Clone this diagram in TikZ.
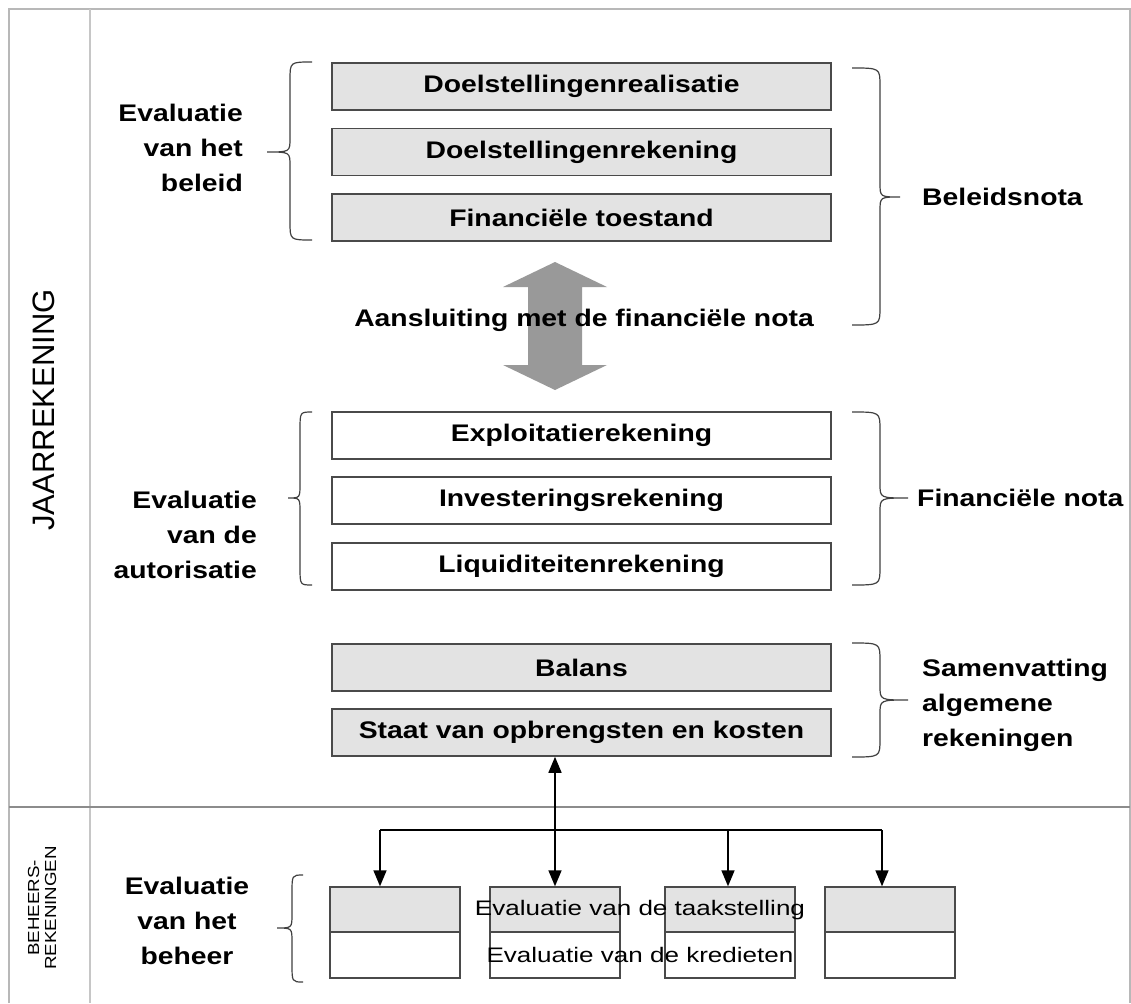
\documentclass[tikz,border=0pt]{standalone}
\usepackage{fontspec}
\setmainfont{Liberation Sans}
\usetikzlibrary{arrows.meta,calc}
\definecolor{boxgray}{HTML}{E3E3E3}
\definecolor{edge}{HTML}{4A4A4A}
\definecolor{framegray}{HTML}{B8B8B8}
\definecolor{sepgray}{HTML}{8C8C8C}
\definecolor{bigarrow}{HTML}{999999}
% horizontally widened text
\newcommand{\wide}[1]{\scalebox{1.18}[1]{#1}}
\newcommand{\widesmall}[1]{\scalebox{1.24}[1]{#1}}
% curly brace: ends x, spine x, tip x, top y, tip y, bottom y
\newcommand{\curly}[6]{%
  \draw[brace] (#1,#4) .. controls (#2,#4) .. (#2,#4+18) -- (#2,#5-14)
    .. controls (#2,#5) .. (#3,#5) .. controls (#2,#5) .. (#2,#5+14)
    -- (#2,#6-18) .. controls (#2,#6) .. (#1,#6);}
\begin{document}
\begin{tikzpicture}[x=1pt,y=-1pt,
  bigbox/.style={draw=edge, line width=1.6pt, fill=boxgray, minimum width=499pt,
    minimum height=47pt, inner sep=0pt, font=\fontsize{24}{28}\selectfont\bfseries},
  whitebox/.style={bigbox, fill=white},
  smallgray/.style={draw=edge, line width=1.4pt, fill=boxgray, minimum width=130pt,
    minimum height=45pt, inner sep=0pt},
  smallwhite/.style={smallgray, fill=white, minimum height=46pt},
  label/.style={font=\fontsize{24}{35}\selectfont\bfseries, inner sep=0pt},
  brace/.style={draw=black!75, line width=1.2pt},
  conn/.style={draw=black, line width=1.6pt},
  tip/.style={-{Triangle[width=13pt,length=16pt]}},
  dtip/.style={{Triangle[width=13pt,length=16pt]}-{Triangle[width=13pt,length=16pt]}}]
\useasboundingbox (0,0) rectangle (1131,1003);
\fill[white] (0,0) rectangle (1131,1003);

% frame and column/row separators
\draw[framegray, line width=2pt] (9,1003) -- (9,9) -- (1130,9) -- (1130,1003);
\draw[framegray!80, line width=2.4pt] (90,9) -- (90,1003);
\draw[sepgray, line width=1.4pt] (9,807) -- (1130,807);

% row titles
\node[rotate=90, font=\fontsize{31}{31}\selectfont] (jr) at (44,410) {JAARREKENING};
\node[rotate=90, align=center, font=\fontsize{16}{17}\selectfont, inner sep=0pt] (br) at (42,908)
  {\scalebox{1.17}[1]{BEHEERS-}\\\scalebox{1.17}[1]{REKENINGEN}};

% beleidsnota
\node[bigbox] (b1) at (581.5,86.5) {\wide{Doelstellingenrealisatie}};
\node[bigbox] (b2) at (581.5,152) {\wide{Doelstellingenrekening}};
\node[bigbox] (b3) at (581.5,217.5) {\wide{Financiële toestand}};

% connection arrow
\fill[bigarrow] (555,262) -- (607,287) -- (582,287) -- (582,365) -- (607,365)
  -- (555,390) -- (503,365) -- (528,365) -- (528,287) -- (503,287) -- cycle;
\node[label] (aans) at (584,320) {\wide{Aansluiting met de financiële nota}};

% financiele nota
\node[whitebox] (f1) at (581.5,435.5) {\wide{Exploitatierekening}};
\node[whitebox] (f2) at (581.5,500.5) {\wide{Investeringsrekening}};
\node[whitebox] (f3) at (581.5,566.5) {\wide{Liquiditeitenrekening}};

% algemene rekeningen
\node[bigbox] (g1) at (581.5,667.5) {\wide{Balans}};
\node[bigbox] (g2) at (581.5,732.5) {\wide{Staat van opbrengsten en kosten}};

% left-hand labels
\node[label, anchor=east, align=right] (evb) at (243,148)
  {\wide{Evaluatie}\\\wide{van het}\\\wide{beleid}};
\node[label, anchor=east, align=right] (eva) at (257,535)
  {\wide{Evaluatie}\\\wide{van de}\\\wide{autorisatie}};
\node[label, align=center] (evh) at (187,921)
  {\wide{Evaluatie}\\\wide{van het}\\\wide{beheer}};

% right-hand labels
\node[label, anchor=west] (bn) at (922,197) {\wide{Beleidsnota}};
\node[label, anchor=west] (fn) at (917,498) {\wide{Financiële nota}};
\node[label, anchor=west, align=left] (sa) at (922,705)
  {\wide{Samenvatting}\\\wide{algemene}\\\wide{rekeningen}};

% braces
\curly{312}{290}{267}{62}{152}{240}
\curly{312}{300}{288}{412}{498}{585}
\curly{303}{292}{277}{875}{928}{982}
\curly{852}{880}{900}{68}{197}{325}
\curly{852}{880}{908}{412}{498}{585}
\curly{852}{880}{908}{643}{700}{757}

% beheersrekeningen
\node[smallgray] (aT) at (395,909.5) {};
\node[smallwhite] (aB) at (395,955) {};
\node[smallgray] (bT) at (555,909.5) {};
\node[smallwhite] (bB) at (555,955) {};
\node[smallgray] (cT) at (730,909.5) {};
\node[smallwhite] (cB) at (730,955) {};
\node[smallgray] (dT) at (890,909.5) {};
\node[smallwhite] (dB) at (890,955) {};
\node[font=\fontsize{21}{21}\selectfont, inner sep=0pt] (tk) at (640,910) {\widesmall{Evaluatie van de taakstelling}};
\node[font=\fontsize{21}{21}\selectfont, inner sep=0pt] (kr) at (640,955) {\widesmall{Evaluatie van de kredieten}};

% distribution connectors
\coordinate (hl) at (380,830);
\coordinate (hr) at (882,830);
\coordinate (hc) at (728,830);
\draw[conn] (hl) -- (hr);
\draw[conn, tip] (hl) -- (hl |- aT.north);
\draw[conn, tip] (hc) -- (hc |- cT.north);
\draw[conn, tip] (hr) -- (hr |- dT.north);
\draw[conn, dtip] (bT.north) -- (bT.north |- g2.south);
\end{tikzpicture}
\end{document}
